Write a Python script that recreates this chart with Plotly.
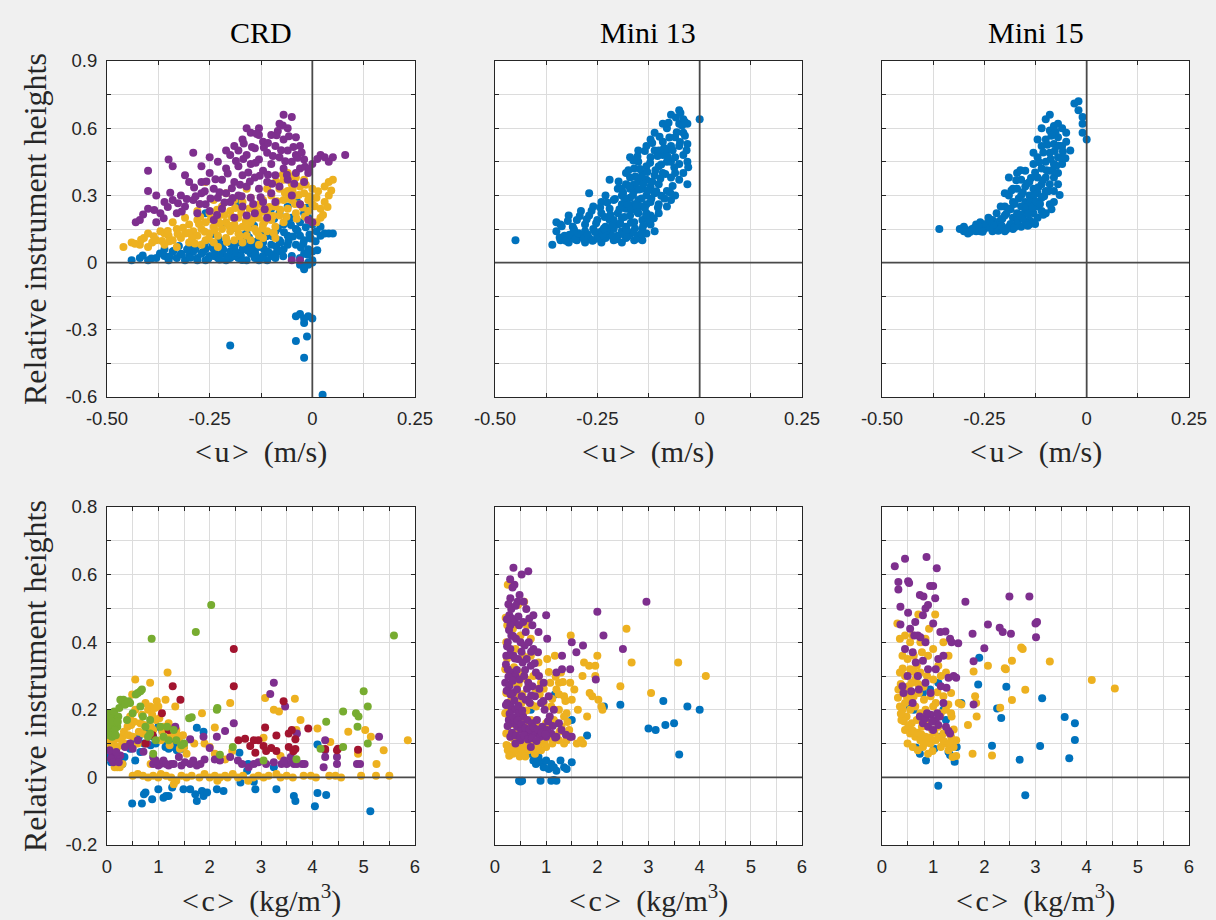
import plotly.graph_objects as go

BLUE = '#0072BD'
YELLOW = '#EDB120'
PURPLE = '#7E2F8E'
GREEN = '#77AC30'
RED = '#A2142F'

titles = ['CRD', 'Mini 13', 'Mini 15']

# ---------------- mean velocity <u> vs relative height ----------------
crd_u_blue = [
    (-0.44, 0.01), (-0.42, 0.02), (-0.40, 0.01), (-0.38, 0.02), (-0.36, 0.03), (-0.35, 0.01), (-0.33, 0.02),
    (-0.32, 0.04), (-0.31, 0.01), (-0.30, 0.03), (-0.29, 0.05), (-0.28, 0.02), (-0.27, 0.04), (-0.26, 0.01),
    (-0.25, 0.03), (-0.24, 0.06), (-0.23, 0.02), (-0.22, 0.04), (-0.21, 0.01), (-0.20, 0.05), (-0.19, 0.03),
    (-0.18, 0.02), (-0.17, 0.06), (-0.16, 0.01), (-0.15, 0.04), (-0.14, 0.02), (-0.13, 0.07), (-0.12, 0.03),
    (-0.11, 0.05), (-0.10, 0.08), (-0.09, 0.04), (-0.08, 0.10), (-0.07, 0.06), (-0.06, 0.12), (-0.05, 0.03),
    (-0.04, 0.08), (-0.03, 0.02), (-0.02, -0.02), (-0.01, 0.00), (0.00, 0.01), (-0.01, -0.01),
    (-0.30, 0.07), (-0.26, 0.06), (-0.22, 0.08), (-0.18, 0.09), (-0.16, 0.07), (-0.14, 0.05), (-0.12, 0.09),
    (-0.10, 0.03), (-0.08, 0.05), (-0.06, 0.08), (-0.20, 0.02), (-0.24, 0.03), (-0.28, 0.01), (-0.34, 0.05),
    (-0.36, 0.06), (-0.13, 0.01), (-0.11, 0.01), (-0.09, 0.02), (-0.15, 0.09), (-0.19, 0.07),
    (-0.04, 0.15), (-0.03, 0.18), (-0.02, 0.22), (-0.01, 0.20), (0.00, 0.17), (-0.05, 0.20), (-0.07, 0.17),
    (-0.08, 0.22), (-0.03, 0.12), (-0.02, 0.10), (0.01, 0.14), (0.02, 0.16), (0.03, 0.13), (0.04, 0.13),
    (0.05, 0.13), (0.02, 0.12), (-0.06, 0.25), (-0.10, 0.24), (-0.12, 0.14), (-0.16, 0.13), (-0.22, 0.17),
    (-0.26, 0.22), (-0.18, 0.27), (-0.09, 0.14), (-0.01, 0.06), (0.00, 0.05), (-0.02, 0.04),
    (-0.413, 0.032), (-0.392, 0.018), (-0.371, 0.041), (-0.347, 0.027), (-0.338, 0.052), (-0.318, 0.036),
    (-0.297, 0.022), (-0.284, 0.061), (-0.266, 0.047), (-0.253, 0.018), (-0.244, 0.071), (-0.236, 0.039),
    (-0.217, 0.058), (-0.207, 0.027), (-0.198, 0.083), (-0.186, 0.046), (-0.174, 0.031), (-0.166, 0.092),
    (-0.158, 0.054), (-0.147, 0.072), (-0.138, 0.036), (-0.127, 0.104), (-0.118, 0.061), (-0.106, 0.045),
    (-0.097, 0.118), (-0.088, 0.072), (-0.077, 0.091), (-0.069, 0.135), (-0.058, 0.098), (-0.047, 0.116),
    (-0.036, 0.142), (-0.028, 0.067), (-0.016, 0.158), (-0.007, 0.126), (0.008, 0.095), (-0.052, 0.168),
    (-0.063, 0.188), (-0.084, 0.152), (-0.112, 0.118), (-0.135, 0.095), (-0.154, 0.112), (-0.176, 0.124),
    (-0.228, 0.103), (-0.262, 0.086), (-0.305, 0.058), (-0.325, 0.074), (-0.014, 0.245), (-0.038, 0.275),
    (-0.093, 0.196), (-0.142, 0.165), (-0.192, 0.155), (-0.243, 0.128), (-0.011, 0.035), (0.012, 0.055),
    (-0.022, 0.085), (-0.004, 0.108), (-0.071, 0.028), (-0.122, 0.022), (-0.171, 0.012), (-0.226, 0.014),
    (-0.03, -0.01), (-0.02, -0.03), (0.00, 0.00), (-0.04, -0.24), (-0.03, -0.23), (-0.02, -0.25),
    (-0.01, -0.24), (-0.02, -0.27), (0.00, -0.25), (-0.20, -0.37), (-0.04, -0.35), (-0.013, -0.33),
    (-0.02, -0.425), (0.025, -0.59),
]
crd_u_yellow = [
    (-0.46, 0.07), (-0.44, 0.09), (-0.42, 0.08), (-0.41, 0.11), (-0.40, 0.07), (-0.39, 0.09), (-0.38, 0.10),
    (-0.37, 0.14), (-0.36, 0.08), (-0.35, 0.12), (-0.34, 0.10), (-0.33, 0.15), (-0.32, 0.11), (-0.31, 0.13),
    (-0.30, 0.17), (-0.30, 0.09), (-0.29, 0.14), (-0.28, 0.12), (-0.28, 0.19), (-0.27, 0.15), (-0.26, 0.10),
    (-0.26, 0.18), (-0.25, 0.13), (-0.25, 0.22), (-0.24, 0.16), (-0.24, 0.09), (-0.23, 0.20), (-0.23, 0.12),
    (-0.22, 0.15), (-0.22, 0.25), (-0.21, 0.11), (-0.21, 0.18), (-0.20, 0.14), (-0.20, 0.23), (-0.19, 0.10),
    (-0.19, 0.17), (-0.18, 0.20), (-0.18, 0.13), (-0.17, 0.16), (-0.17, 0.27), (-0.16, 0.12), (-0.16, 0.21),
    (-0.15, 0.18), (-0.15, 0.10), (-0.14, 0.15), (-0.14, 0.24), (-0.13, 0.20), (-0.13, 0.12), (-0.12, 0.17),
    (-0.12, 0.28), (-0.11, 0.22), (-0.11, 0.14), (-0.10, 0.19), (-0.10, 0.30), (-0.09, 0.25), (-0.09, 0.16),
    (-0.08, 0.33), (-0.08, 0.21), (-0.07, 0.28), (-0.07, 0.37), (-0.06, 0.24), (-0.06, 0.40), (-0.06, 0.32),
    (-0.05, 0.35), (-0.05, 0.28), (-0.04, 0.38), (-0.04, 0.30), (-0.04, 0.22), (-0.03, 0.34), (-0.03, 0.26),
    (-0.02, 0.31), (-0.02, 0.37), (-0.01, 0.28), (-0.01, 0.23), (0.00, 0.33), (0.00, 0.26), (0.01, 0.29),
    (0.02, 0.24), (0.03, 0.27), (0.03, 0.34), (0.04, 0.36), (0.05, 0.37), (0.04, 0.30), (0.02, 0.20),
    (0.01, 0.18), (-0.33, 0.07), (-0.36, 0.13), (-0.27, 0.08), (-0.23, 0.07), (-0.17, 0.09), (-0.13, 0.08),
    (-0.09, 0.11), (-0.15, 0.29), (-0.19, 0.28), (-0.21, 0.31), (-0.24, 0.28), (-0.26, 0.36), (-0.28, 0.23),
    (-0.31, 0.20), (-0.34, 0.18), (-0.40, 0.13), (-0.12, 0.11), (-0.07, 0.18), (-0.11, 0.33), (-0.16, 0.33),
    (-0.432, 0.084), (-0.417, 0.102), (-0.386, 0.118), (-0.366, 0.096), (-0.352, 0.141), (-0.328, 0.128),
    (-0.315, 0.156), (-0.293, 0.107), (-0.276, 0.172), (-0.262, 0.138), (-0.247, 0.194), (-0.238, 0.146),
    (-0.226, 0.176), (-0.214, 0.212), (-0.203, 0.164), (-0.196, 0.204), (-0.184, 0.152), (-0.173, 0.226),
    (-0.162, 0.186), (-0.153, 0.242), (-0.144, 0.196), (-0.136, 0.138), (-0.125, 0.226), (-0.116, 0.184),
    (-0.104, 0.248), (-0.096, 0.208), (-0.086, 0.274), (-0.078, 0.236), (-0.067, 0.312), (-0.058, 0.286),
    (-0.048, 0.326), (-0.042, 0.262), (-0.033, 0.302), (-0.024, 0.246), (-0.016, 0.348), (-0.006, 0.296),
    (0.006, 0.252), (0.014, 0.318), (0.026, 0.212), (0.037, 0.248), (0.046, 0.322), (-0.072, 0.392),
    (-0.054, 0.384), (-0.088, 0.362), (-0.128, 0.262), (-0.176, 0.118), (-0.208, 0.092), (-0.252, 0.107),
    (-0.286, 0.085), (-0.348, 0.095), (-0.188, 0.244), (-0.232, 0.236), (-0.121, 0.152), (-0.094, 0.132),
    (-0.063, 0.205), (-0.038, 0.196), (-0.018, 0.206), (-0.302, 0.132), (-0.273, 0.204), (-0.157, 0.155),
]
crd_u_purple = [
    (-0.43, 0.18), (-0.42, 0.19), (-0.40, 0.32), (-0.40, 0.41), (-0.40, 0.24), (-0.38, 0.18), (-0.37, 0.22),
    (-0.35, 0.46), (-0.34, 0.43), (-0.34, 0.28), (-0.33, 0.22), (-0.32, 0.30), (-0.31, 0.25), (-0.30, 0.36),
    (-0.29, 0.49), (-0.29, 0.28), (-0.28, 0.22), (-0.27, 0.36), (-0.27, 0.31), (-0.26, 0.26), (-0.25, 0.40),
    (-0.25, 0.23), (-0.24, 0.33), (-0.23, 0.45), (-0.23, 0.29), (-0.22, 0.37), (-0.22, 0.24), (-0.21, 0.42),
    (-0.21, 0.31), (-0.20, 0.48), (-0.20, 0.27), (-0.19, 0.36), (-0.19, 0.52), (-0.18, 0.43), (-0.18, 0.30),
    (-0.17, 0.55), (-0.17, 0.39), (-0.17, 0.25), (-0.16, 0.48), (-0.16, 0.34), (-0.15, 0.58), (-0.15, 0.44),
    (-0.15, 0.29), (-0.14, 0.51), (-0.14, 0.38), (-0.14, 0.22), (-0.13, 0.60), (-0.13, 0.46), (-0.13, 0.33),
    (-0.12, 0.54), (-0.12, 0.41), (-0.12, 0.27), (-0.11, 0.49), (-0.11, 0.36), (-0.10, 0.57), (-0.10, 0.44),
    (-0.10, 0.31), (-0.09, 0.52), (-0.09, 0.39), (-0.08, 0.62), (-0.08, 0.47), (-0.08, 0.34), (-0.07, 0.66),
    (-0.07, 0.55), (-0.07, 0.42), (-0.06, 0.60), (-0.06, 0.50), (-0.06, 0.37), (-0.05, 0.65), (-0.05, 0.45),
    (-0.04, 0.56), (-0.04, 0.48), (-0.03, 0.52), (-0.03, 0.42), (-0.02, 0.46), (-0.01, 0.40), (0.00, 0.44),
    (0.02, 0.48), (0.03, 0.47), (0.04, 0.45), (0.05, 0.47), (0.08, 0.48), (-0.01, 0.19), (0.00, 0.18),
    (-0.05, 0.01), (-0.03, 0.01), (-0.27, 0.43), (-0.31, 0.39), (-0.36, 0.27), (-0.38, 0.30), (-0.16, 0.21),
    (-0.11, 0.20), (-0.19, 0.20), (-0.24, 0.19), (-0.09, 0.27), (-0.05, 0.30), (-0.02, 0.36), (-0.13, 0.57),
    (-0.16, 0.60), (-0.18, 0.50), (-0.21, 0.50), (-0.25, 0.47), (-0.04, 0.40), (-0.03, 0.26),
    (-0.412, 0.215), (-0.385, 0.235), (-0.362, 0.198), (-0.346, 0.312), (-0.327, 0.265), (-0.306, 0.284),
    (-0.288, 0.335), (-0.274, 0.262), (-0.262, 0.318), (-0.248, 0.286), (-0.236, 0.372), (-0.226, 0.314),
    (-0.214, 0.268), (-0.206, 0.398), (-0.196, 0.332), (-0.186, 0.454), (-0.176, 0.348), (-0.168, 0.462),
    (-0.156, 0.402), (-0.147, 0.516), (-0.138, 0.446), (-0.128, 0.388), (-0.118, 0.514), (-0.108, 0.392),
    (-0.096, 0.476), (-0.087, 0.568), (-0.076, 0.502), (-0.066, 0.452), (-0.057, 0.564), (-0.046, 0.516),
    (-0.036, 0.468), (-0.026, 0.492), (-0.018, 0.428), (-0.008, 0.418), (0.012, 0.462), (-0.072, 0.612),
    (-0.084, 0.588), (-0.108, 0.534), (-0.136, 0.575), (-0.152, 0.362), (-0.172, 0.296), (-0.194, 0.288),
    (-0.232, 0.212), (-0.258, 0.362), (-0.284, 0.296), (-0.318, 0.228), (-0.352, 0.248), (-0.126, 0.292),
    (-0.098, 0.352), (-0.062, 0.392), (-0.044, 0.352), (-0.116, 0.238), (-0.144, 0.262), (-0.167, 0.532),
]
mini13_u_blue = [
    (-0.45, 0.10), (-0.36, 0.08), (-0.34, 0.10), (-0.33, 0.12), (-0.32, 0.09), (-0.31, 0.11), (-0.30, 0.10),
    (-0.29, 0.12), (-0.28, 0.09), (-0.27, 0.11), (-0.26, 0.10), (-0.25, 0.12), (-0.24, 0.09), (-0.23, 0.11),
    (-0.22, 0.13), (-0.21, 0.10), (-0.20, 0.12), (-0.19, 0.14), (-0.18, 0.11), (-0.17, 0.13), (-0.16, 0.10),
    (-0.15, 0.12), (-0.14, 0.15), (-0.13, 0.13), (-0.35, 0.18), (-0.34, 0.17), (-0.35, 0.14), (-0.32, 0.21),
    (-0.31, 0.16), (-0.30, 0.19), (-0.29, 0.23), (-0.28, 0.17), (-0.27, 0.21), (-0.26, 0.25), (-0.26, 0.15),
    (-0.25, 0.19), (-0.24, 0.27), (-0.24, 0.22), (-0.23, 0.16), (-0.23, 0.30), (-0.22, 0.24), (-0.22, 0.19),
    (-0.21, 0.28), (-0.21, 0.15), (-0.20, 0.33), (-0.20, 0.22), (-0.20, 0.17), (-0.19, 0.26), (-0.19, 0.30),
    (-0.19, 0.20), (-0.18, 0.35), (-0.18, 0.24), (-0.18, 0.16), (-0.17, 0.29), (-0.17, 0.38), (-0.17, 0.21),
    (-0.16, 0.32), (-0.16, 0.26), (-0.16, 0.42), (-0.16, 0.18), (-0.15, 0.36), (-0.15, 0.28), (-0.15, 0.22),
    (-0.15, 0.45), (-0.14, 0.33), (-0.14, 0.40), (-0.14, 0.25), (-0.14, 0.19), (-0.13, 0.37), (-0.13, 0.30),
    (-0.13, 0.43), (-0.13, 0.22), (-0.12, 0.34), (-0.12, 0.47), (-0.12, 0.27), (-0.12, 0.17), (-0.11, 0.39),
    (-0.11, 0.31), (-0.11, 0.50), (-0.10, 0.43), (-0.10, 0.35), (-0.10, 0.26), (-0.09, 0.48), (-0.09, 0.40),
    (-0.09, 0.54), (-0.08, 0.45), (-0.08, 0.32), (-0.08, 0.60), (-0.07, 0.52), (-0.07, 0.38), (-0.07, 0.28),
    (-0.06, 0.56), (-0.06, 0.47), (-0.06, 0.30), (-0.05, 0.62), (-0.05, 0.52), (-0.05, 0.68), (-0.04, 0.58),
    (-0.04, 0.48), (-0.04, 0.40), (-0.03, 0.62), (-0.03, 0.53), (-0.03, 0.45), (-0.03, 0.35), (0.00, 0.64),
    (-0.04, 0.64), (-0.07, 0.66), (-0.09, 0.62), (-0.11, 0.58), (-0.13, 0.52), (-0.17, 0.47), (-0.22, 0.37),
    (-0.27, 0.31), (-0.05, 0.37), (-0.06, 0.40), (-0.08, 0.25), (-0.10, 0.22), (-0.12, 0.21), (-0.17, 0.13),
    (-0.19, 0.09), (-0.24, 0.14), (-0.28, 0.14), (-0.31, 0.13), (-0.14, 0.10), (-0.11, 0.14), (-0.16, 0.35),
    (-0.18, 0.40), (-0.15, 0.50), (-0.12, 0.55), (-0.10, 0.50), (-0.08, 0.50), (-0.07, 0.45), (-0.05, 0.44),
    (-0.13, 0.26), (-0.19, 0.33), (-0.21, 0.19), (-0.17, 0.33),
    (-0.342, 0.112), (-0.327, 0.098), (-0.318, 0.124), (-0.304, 0.104), (-0.296, 0.131), (-0.283, 0.107),
    (-0.274, 0.126), (-0.262, 0.098), (-0.248, 0.108), (-0.236, 0.124), (-0.228, 0.142), (-0.214, 0.118),
    (-0.203, 0.104), (-0.188, 0.128), (-0.176, 0.116), (-0.163, 0.134), (-0.152, 0.108), (-0.143, 0.128),
    (-0.337, 0.162), (-0.322, 0.186), (-0.307, 0.148), (-0.293, 0.208), (-0.276, 0.194), (-0.264, 0.232),
    (-0.253, 0.176), (-0.243, 0.246), (-0.232, 0.204), (-0.226, 0.268), (-0.218, 0.214), (-0.207, 0.284),
    (-0.196, 0.238), (-0.187, 0.312), (-0.184, 0.204), (-0.176, 0.262), (-0.172, 0.342), (-0.166, 0.236),
    (-0.163, 0.302), (-0.157, 0.384), (-0.154, 0.254), (-0.148, 0.326), (-0.146, 0.418), (-0.142, 0.286),
    (-0.137, 0.352), (-0.134, 0.244), (-0.128, 0.404), (-0.126, 0.322), (-0.121, 0.446), (-0.118, 0.286),
    (-0.116, 0.362), (-0.108, 0.412), (-0.106, 0.318), (-0.103, 0.476), (-0.096, 0.376), (-0.094, 0.438),
    (-0.087, 0.512), (-0.084, 0.396), (-0.078, 0.472), (-0.074, 0.558), (-0.066, 0.502), (-0.062, 0.424),
    (-0.056, 0.582), (-0.048, 0.538), (-0.043, 0.612), (-0.036, 0.566), (-0.032, 0.502), (-0.028, 0.426),
    (-0.066, 0.342), (-0.072, 0.312), (-0.086, 0.286), (-0.094, 0.298), (-0.102, 0.246), (-0.112, 0.198),
    (-0.124, 0.186), (-0.138, 0.164), (-0.158, 0.152), (-0.168, 0.178), (-0.178, 0.146), (-0.194, 0.176),
    (-0.214, 0.162), (-0.234, 0.152), (-0.256, 0.138), (-0.184, 0.288), (-0.198, 0.362), (-0.174, 0.412),
    (-0.152, 0.474), (-0.134, 0.498), (-0.116, 0.534), (-0.098, 0.562), (-0.076, 0.624), (-0.058, 0.648),
    (-0.047, 0.668), (-0.036, 0.628), (-0.152, 0.226), (-0.131, 0.212), (-0.142, 0.382), (-0.162, 0.456),
]
mini15_u_blue = [
    (-0.36, 0.15), (-0.30, 0.14), (-0.30, 0.16), (-0.29, 0.13), (-0.28, 0.15), (-0.27, 0.17), (-0.26, 0.14),
    (-0.25, 0.15), (-0.24, 0.16), (-0.23, 0.14), (-0.22, 0.15), (-0.21, 0.17), (-0.20, 0.14), (-0.19, 0.16),
    (-0.18, 0.15), (-0.17, 0.17), (-0.26, 0.18), (-0.24, 0.20), (-0.22, 0.22), (-0.21, 0.19), (-0.20, 0.25),
    (-0.20, 0.21), (-0.19, 0.30), (-0.19, 0.24), (-0.18, 0.20), (-0.18, 0.27), (-0.17, 0.33), (-0.17, 0.22),
    (-0.17, 0.19), (-0.16, 0.30), (-0.16, 0.25), (-0.16, 0.37), (-0.16, 0.20), (-0.15, 0.34), (-0.15, 0.27),
    (-0.15, 0.23), (-0.15, 0.41), (-0.14, 0.30), (-0.14, 0.36), (-0.14, 0.25), (-0.14, 0.19), (-0.13, 0.44),
    (-0.13, 0.33), (-0.13, 0.28), (-0.13, 0.22), (-0.12, 0.38), (-0.12, 0.31), (-0.12, 0.47), (-0.12, 0.25),
    (-0.11, 0.42), (-0.11, 0.35), (-0.11, 0.29), (-0.11, 0.52), (-0.10, 0.45), (-0.10, 0.38), (-0.10, 0.32),
    (-0.10, 0.55), (-0.09, 0.49), (-0.09, 0.41), (-0.09, 0.35), (-0.09, 0.59), (-0.08, 0.53), (-0.08, 0.44),
    (-0.08, 0.38), (-0.08, 0.61), (-0.07, 0.56), (-0.07, 0.47), (-0.07, 0.40), (-0.07, 0.62), (-0.06, 0.52),
    (-0.06, 0.44), (-0.05, 0.54), (-0.04, 0.50), (-0.03, 0.71), (-0.02, 0.68), (-0.02, 0.72), (-0.01, 0.65),
    (-0.01, 0.62), (-0.01, 0.58), (0.00, 0.55), (-0.09, 0.26), (-0.08, 0.27), (-0.12, 0.20), (-0.10, 0.22),
    (-0.14, 0.17), (-0.16, 0.16), (-0.20, 0.31), (-0.21, 0.25), (-0.22, 0.18), (-0.23, 0.19), (-0.18, 0.33),
    (-0.19, 0.38), (-0.17, 0.40), (-0.13, 0.49), (-0.12, 0.55), (-0.11, 0.60), (-0.10, 0.64), (-0.09, 0.66),
    (-0.06, 0.60), (-0.05, 0.58), (-0.07, 0.35), (-0.08, 0.32), (-0.11, 0.23), (-0.13, 0.18), (-0.15, 0.18),
    (-0.26, 0.16), (-0.27, 0.14), (-0.31, 0.15),
    (-0.296, 0.148), (-0.284, 0.138), (-0.274, 0.156), (-0.263, 0.148), (-0.254, 0.138), (-0.246, 0.172),
    (-0.236, 0.156), (-0.228, 0.168), (-0.216, 0.142), (-0.207, 0.162), (-0.196, 0.148), (-0.186, 0.172),
    (-0.176, 0.158), (-0.168, 0.186), (-0.162, 0.214), (-0.156, 0.198), (-0.148, 0.246), (-0.143, 0.218),
    (-0.138, 0.272), (-0.133, 0.246), (-0.128, 0.304), (-0.124, 0.272), (-0.118, 0.336), (-0.114, 0.262),
    (-0.107, 0.368), (-0.104, 0.296), (-0.098, 0.412), (-0.094, 0.318), (-0.088, 0.462), (-0.084, 0.412),
    (-0.078, 0.498), (-0.074, 0.432), (-0.068, 0.522), (-0.064, 0.468), (-0.058, 0.496), (-0.052, 0.466),
    (-0.076, 0.584), (-0.086, 0.566), (-0.096, 0.526), (-0.106, 0.492), (-0.116, 0.448), (-0.126, 0.402),
    (-0.136, 0.378), (-0.146, 0.352), (-0.156, 0.314), (-0.166, 0.286), (-0.176, 0.262), (-0.186, 0.238),
    (-0.196, 0.218), (-0.206, 0.196), (-0.236, 0.186), (-0.144, 0.164), (-0.126, 0.172), (-0.106, 0.214),
    (-0.086, 0.238), (-0.066, 0.302), (-0.172, 0.368), (-0.184, 0.322), (-0.162, 0.412),
]

# ---------------- mean concentration <c> vs relative height ----------------
crd_c_blue = [
    (0.49, -0.077), (0.68, -0.077), (0.75, -0.045), (0.88, -0.065), (1.00, -0.035), (1.10, -0.06),
    (1.20, -0.055), (1.27, -0.03), (1.49, -0.035), (1.62, -0.035), (1.72, -0.05), (1.75, -0.07),
    (1.85, -0.04), (1.88, -0.055), (1.95, -0.045), (2.14, -0.035), (2.27, -0.04), (2.60, -0.015),
    (2.86, -0.013), (2.89, -0.035), (3.30, -0.035), (3.64, -0.055), (3.67, -0.07), (4.10, -0.046),
    (4.27, -0.052), (4.05, -0.085), (5.13, -0.10), (1.15, -0.055), (0.72, -0.05),
    (0.10, 0.05), (0.15, 0.04), (0.20, 0.045), (0.30, 0.04), (0.39, 0.095), (0.55, 0.10), (0.62, 0.12),
    (0.55, 0.05), (0.78, 0.135), (0.65, 0.075), (1.07, 0.14), (1.14, 0.09), (1.20, 0.085), (1.30, 0.10),
    (1.36, 0.08), (1.46, 0.085), (1.75, 0.147), (1.88, 0.135), (2.58, 0.073), (2.73, 0.02), (3.25, 0.03),
    (4.10, 0.097), (1.50, 0.09), (2.75, 0.04), (0.90, 0.12), (1.00, 0.15), (0.05, 0.06),
    (0.08, 0.045), (0.12, 0.065), (0.17, 0.055), (0.25, 0.05), (0.34, 0.06), (0.45, 0.085), (0.72, 0.10),
    (0.85, 0.095), (0.95, 0.10), (1.12, 0.11), (1.25, 0.09), (1.40, 0.10),
]
crd_c_yellow = [
    (0.50, 0.005), (0.60, 0.01), (0.70, 0.005), (0.80, 0.0), (0.90, 0.005), (1.00, 0.0), (1.05, 0.01),
    (1.15, 0.005), (1.25, 0.0), (1.35, -0.01), (1.45, 0.005), (1.55, 0.0), (1.65, 0.005), (1.80, 0.0),
    (1.90, 0.01), (2.00, 0.0), (2.10, 0.005), (2.20, 0.0), (2.30, 0.005), (2.35, 0.0), (2.45, 0.01),
    (2.55, 0.0), (2.65, 0.005), (2.75, -0.01), (2.85, 0.0), (2.95, 0.005), (3.05, 0.0), (3.15, 0.005),
    (3.30, 0.01), (3.38, 0.0), (3.50, 0.005), (3.62, 0.0), (3.83, 0.005), (3.97, 0.005), (4.07, 0.0),
    (4.33, 0.005), (4.45, 0.005), (4.56, 0.0), (4.95, 0.005), (5.24, 0.005), (5.50, 0.005), (1.30, -0.02),
    (2.15, -0.01),
    (0.55, 0.29), (0.84, 0.28), (1.18, 0.31), (0.97, 0.225), (1.14, 0.23), (1.33, 0.21), (0.84, 0.21),
    (0.49, 0.245), (1.85, 0.19), (2.10, 0.148), (2.40, 0.22), (2.44, 0.078), (2.30, 0.053), (3.08, 0.235),
    (3.25, 0.20), (3.35, 0.195), (3.05, 0.117), (3.38, 0.063), (3.66, 0.233), (3.77, 0.17), (4.10, 0.145),
    (4.35, 0.105), (4.70, 0.135), (5.03, 0.14), (5.14, 0.12), (5.39, 0.08), (5.25, 0.04), (5.86, 0.11),
    (4.89, 0.07), (3.69, 0.14),
    (0.05, 0.10), (0.10, 0.08), (0.15, 0.12), (0.20, 0.09), (0.25, 0.03), (0.30, 0.04), (0.35, 0.10),
    (0.40, 0.15), (0.45, 0.18), (0.50, 0.12), (0.55, 0.20), (0.60, 0.10), (0.65, 0.16), (0.70, 0.13),
    (0.75, 0.22), (0.80, 0.20), (0.85, 0.15), (0.90, 0.14), (0.95, 0.17), (1.00, 0.21), (1.05, 0.11),
    (1.10, 0.15), (1.20, 0.16), (1.25, 0.13), (1.30, 0.12), (1.35, 0.14), (1.40, 0.11), (1.45, 0.10),
    (1.50, 0.09), (1.55, 0.07), (1.70, 0.10), (1.90, 0.10), (2.00, 0.09), (2.10, 0.07), (0.20, 0.03),
    (0.15, 0.03), (0.85, 0.04), (0.02, 0.12), (0.08, 0.11), (0.30, 0.12),
    (0.04, 0.085), (0.09, 0.095), (0.13, 0.105), (0.18, 0.075), (0.24, 0.115), (0.28, 0.095), (0.33, 0.135),
    (0.42, 0.125), (0.47, 0.155), (0.53, 0.165), (0.62, 0.135), (0.68, 0.185), (0.72, 0.155), (0.78, 0.125),
    (0.88, 0.185), (0.93, 0.205), (1.02, 0.175), (1.08, 0.135), (1.16, 0.115), (1.22, 0.095), (1.28, 0.145),
    (1.38, 0.125), (1.42, 0.085), (1.48, 0.125),
]
crd_c_purple = [
    (0.10, 0.07), (0.15, 0.06), (0.20, 0.055), (0.26, 0.065), (0.05, 0.08), (0.45, 0.10), (0.71, 0.076),
    (0.90, 0.04), (1.00, 0.035), (1.04, 0.04), (1.20, 0.035), (1.25, 0.04), (1.45, 0.035), (1.62, 0.04),
    (1.75, 0.035), (1.33, 0.15), (1.62, 0.113), (1.88, 0.12), (2.00, 0.087), (2.14, 0.12), (2.30, 0.137),
    (2.47, 0.16), (1.90, 0.053), (2.10, 0.053), (2.63, 0.04), (2.76, 0.03), (2.86, 0.04), (3.25, 0.28),
    (3.18, 0.247), (3.47, 0.21), (3.40, 0.04), (3.50, 0.04), (3.64, 0.04), (3.70, 0.13), (3.70, 0.04),
    (3.80, 0.04), (3.85, 0.04), (4.25, 0.11), (4.25, 0.08), (4.25, 0.06), (4.22, 0.03), (4.48, 0.06),
    (4.48, 0.04), (4.87, 0.04), (4.93, 0.04), (5.30, 0.12), (0.90, 0.06), (1.10, 0.05), (0.60, 0.11),
    (0.35, 0.09), (1.40, 0.06), (3.45, 0.05), (3.58, 0.06),
    (0.08, 0.055), (0.12, 0.045), (0.18, 0.075), (0.23, 0.045), (0.50, 0.085), (0.78, 0.10), (0.95, 0.05),
    (1.15, 0.04), (1.30, 0.04), (1.52, 0.045), (1.68, 0.05), (1.82, 0.04), (2.20, 0.05), (2.40, 0.06),
    (2.55, 0.05), (2.95, 0.045), (3.10, 0.04), (3.25, 0.045), (3.60, 0.045),
]
crd_c_red = [
    (2.47, 0.38), (2.47, 0.27), (1.28, 0.27), (1.43, 0.23), (1.07, 0.19), (0.89, 0.125), (2.69, 0.114),
    (2.79, 0.093), (2.89, 0.073), (2.95, 0.11), (3.05, 0.093), (3.10, 0.078), (3.20, 0.087), (3.30, 0.078),
    (3.08, 0.148), (3.30, 0.124), (3.44, 0.225), (3.54, 0.13), (3.54, 0.09), (3.63, 0.077), (3.92, 0.145),
    (3.67, 0.113), (3.67, 0.084), (4.25, 0.084), (4.48, 0.08), (4.50, 0.085), (4.89, 0.082), (2.56, 0.11),
    (2.86, 0.11), (3.60, 0.14), (0.75, 0.10), (1.20, 0.14),
]
crd_c_green = [
    (2.03, 0.51), (0.87, 0.41), (1.73, 0.43), (5.59, 0.42), (5.00, 0.255), (5.08, 0.21), (4.60, 0.195),
    (4.85, 0.19), (4.90, 0.18), (4.88, 0.15), (4.27, 0.165), (5.08, 0.10), (4.60, 0.09), (4.16, 0.085),
    (3.69, 0.054), (0.05, 0.19), (0.08, 0.17), (0.10, 0.15), (0.12, 0.18), (0.15, 0.16), (0.05, 0.14),
    (0.08, 0.13), (0.12, 0.19), (0.18, 0.17), (0.20, 0.15), (0.03, 0.17), (0.06, 0.16), (0.10, 0.12),
    (0.15, 0.14), (0.22, 0.18), (0.26, 0.23), (0.32, 0.23), (0.38, 0.22), (0.45, 0.22), (0.60, 0.25),
    (0.65, 0.255), (0.68, 0.26), (0.39, 0.17), (0.65, 0.21), (0.84, 0.17), (0.84, 0.13), (1.04, 0.15),
    (1.17, 0.15), (1.60, 0.175), (1.65, 0.178), (2.14, 0.20), (2.15, 0.205), (0.90, 0.07), (1.10, 0.12),
    (1.50, 0.10), (2.20, 0.067), (3.05, 0.05), (0.50, 0.19), (0.70, 0.18), (0.95, 0.11), (1.30, 0.14),
    (1.45, 0.095), (2.45, 0.09),
    (0.02, 0.155), (0.04, 0.125), (0.07, 0.185), (0.11, 0.165), (0.14, 0.195), (0.17, 0.125), (0.21, 0.165),
    (0.24, 0.205), (0.29, 0.225), (0.35, 0.215), (0.42, 0.225), (0.56, 0.245), (0.75, 0.15), (0.80, 0.12),
    (1.20, 0.11), (1.35, 0.11),
]
mini13_c_blue = [
    (3.29, 0.226), (3.76, 0.21), (4.00, 0.20), (2.45, 0.215), (2.13, 0.21), (3.00, 0.145), (3.14, 0.14),
    (3.33, 0.155), (3.50, 0.16), (3.60, 0.068), (1.80, 0.124), (1.45, 0.122), (1.50, 0.17), (1.50, 0.045),
    (1.17, 0.245), (0.90, 0.045), (0.95, 0.03), (1.00, 0.05), (1.05, 0.025), (1.10, 0.04), (1.15, 0.03),
    (1.20, 0.02), (1.28, 0.05), (1.35, 0.03), (1.40, 0.025), (0.80, 0.04), (0.85, 0.06), (0.75, 0.05),
    (0.70, 0.07), (0.47, -0.01), (0.53, -0.01), (0.50, -0.012), (0.89, -0.01), (1.10, -0.01),
    (1.15, -0.008), (1.20, -0.01), (0.60, 0.09), (0.90, 0.12), (1.20, 0.16), (0.35, 0.30), (0.70, 0.20),
]
mini13_c_yellow = [
    (0.25, 0.57), (0.45, 0.51), (0.57, 0.52), (0.70, 0.41), (0.24, 0.45), (0.35, 0.44), (0.50, 0.42),
    (0.62, 0.45), (0.22, 0.40), (0.30, 0.36), (0.40, 0.38), (0.55, 0.36), (0.70, 0.36), (0.85, 0.34),
    (1.02, 0.35), (1.17, 0.36), (1.29, 0.31), (0.20, 0.32), (0.28, 0.30), (0.38, 0.28), (0.48, 0.31),
    (0.62, 0.29), (0.75, 0.30), (0.90, 0.28), (1.08, 0.28), (1.20, 0.26), (1.35, 0.24), (0.22, 0.25),
    (0.32, 0.23), (0.42, 0.24), (0.52, 0.22), (0.65, 0.23), (0.80, 0.21), (0.95, 0.22), (1.10, 0.21),
    (1.25, 0.20), (1.40, 0.19), (0.20, 0.19), (0.28, 0.18), (0.38, 0.17), (0.48, 0.18), (0.58, 0.16),
    (0.70, 0.17), (0.85, 0.15), (1.00, 0.16), (1.15, 0.17), (1.30, 0.15), (1.45, 0.14), (0.22, 0.13),
    (0.30, 0.12), (0.40, 0.13), (0.50, 0.11), (0.60, 0.12), (0.72, 0.10), (0.88, 0.11), (1.00, 0.09),
    (1.12, 0.10), (1.25, 0.11), (1.35, 0.10), (0.25, 0.08), (0.35, 0.07), (0.45, 0.08), (0.55, 0.07),
    (0.65, 0.08), (0.78, 0.07), (0.90, 0.08), (0.30, 0.09), (0.42, 0.10), (0.62, 0.09), (0.80, 0.09),
    (1.48, 0.42), (1.74, 0.34), (1.84, 0.33), (1.71, 0.30), (1.96, 0.33), (1.96, 0.30), (2.00, 0.36),
    (2.57, 0.44), (2.67, 0.34), (3.58, 0.34), (4.12, 0.30), (2.45, 0.27), (3.05, 0.25), (1.90, 0.24),
    (1.85, 0.25), (2.02, 0.23), (2.08, 0.21), (2.10, 0.20), (1.80, 0.18), (1.60, 0.10), (1.68, 0.11),
    (1.72, 0.10), (1.40, 0.11), (1.50, 0.23), (1.25, 0.28), (1.47, 0.28), (1.55, 0.26), (1.62, 0.20),
    (1.35, 0.18),
    (0.208, 0.472), (0.236, 0.352), (0.262, 0.204), (0.314, 0.158), (0.372, 0.112), (0.432, 0.094),
    (0.512, 0.086), (0.584, 0.104), (0.668, 0.096), (0.742, 0.086), (0.846, 0.094), (0.964, 0.102),
    (1.052, 0.118), (1.168, 0.124), (1.262, 0.136), (1.118, 0.232), (1.186, 0.298), (1.326, 0.282),
    (1.052, 0.312), (0.952, 0.262), (0.874, 0.246), (0.788, 0.262), (0.718, 0.214), (0.612, 0.198),
    (0.536, 0.246), (0.462, 0.276), (0.372, 0.326), (0.446, 0.152), (0.546, 0.142), (0.642, 0.144),
    (0.756, 0.132), (0.866, 0.136), (0.226, 0.096), (0.278, 0.064), (0.356, 0.086), (1.416, 0.164),
    (1.376, 0.226), (1.248, 0.246), (0.482, 0.062), (0.592, 0.062),
]
mini13_c_purple = [
    (0.36, 0.62), (0.52, 0.60), (0.65, 0.61), (0.30, 0.53), (0.44, 0.52), (0.48, 0.54), (0.56, 0.52),
    (0.67, 0.47), (0.28, 0.48), (0.33, 0.47), (0.39, 0.46), (0.47, 0.45), (0.60, 0.43), (0.73, 0.45),
    (0.85, 0.43), (1.00, 0.48), (1.02, 0.41), (0.32, 0.42), (0.41, 0.41), (0.50, 0.40), (0.58, 0.39),
    (0.66, 0.40), (0.75, 0.38), (0.30, 0.38), (0.22, 0.36), (0.36, 0.36), (0.45, 0.35), (0.54, 0.34),
    (0.62, 0.35), (0.70, 0.33), (0.80, 0.31), (0.25, 0.32), (0.32, 0.31), (0.40, 0.30), (0.48, 0.29),
    (0.57, 0.30), (0.65, 0.28), (0.73, 0.27), (0.86, 0.30), (0.95, 0.28), (0.20, 0.28), (0.28, 0.27),
    (0.35, 0.25), (0.43, 0.26), (0.52, 0.24), (0.60, 0.23), (0.68, 0.22), (0.78, 0.24), (0.90, 0.22),
    (1.05, 0.24), (0.24, 0.22), (0.31, 0.21), (0.39, 0.20), (0.47, 0.19), (0.55, 0.18), (0.63, 0.17),
    (0.72, 0.16), (0.82, 0.17), (0.93, 0.15), (1.02, 0.14), (0.27, 0.17), (0.35, 0.16), (0.43, 0.15),
    (0.51, 0.14), (0.60, 0.13), (0.69, 0.12), (0.78, 0.13), (0.88, 0.12), (1.00, 0.12), (1.10, 0.13),
    (1.20, 0.12), (1.30, 0.14), (1.47, 0.12), (1.50, 0.12), (1.20, 0.31), (1.31, 0.36), (1.31, 0.32),
    (1.50, 0.40), (1.59, 0.37), (1.72, 0.39), (1.47, 0.32), (2.00, 0.49), (2.12, 0.42), (2.50, 0.38),
    (2.96, 0.52), (1.97, 0.29), (1.07, 0.18), (0.97, 0.20), (0.38, 0.57), (0.30, 0.45), (0.25, 0.40),
    (0.55, 0.46), (0.75, 0.48), (0.84, 0.37), (1.15, 0.20), (1.25, 0.16), (0.40, 0.10), (0.50, 0.11),
    (0.70, 0.09), (0.30, 0.12),
    (0.262, 0.512), (0.318, 0.498), (0.274, 0.436), (0.352, 0.418), (0.236, 0.388), (0.296, 0.362),
    (0.388, 0.352), (0.214, 0.334), (0.262, 0.298), (0.346, 0.286), (0.426, 0.318), (0.228, 0.256),
    (0.302, 0.246), (0.378, 0.228), (0.456, 0.212), (0.532, 0.198), (0.214, 0.214), (0.286, 0.188),
    (0.362, 0.178), (0.438, 0.168), (0.516, 0.158), (0.594, 0.146), (0.676, 0.142), (0.752, 0.148),
    (0.836, 0.142), (0.912, 0.132), (0.986, 0.128), (0.246, 0.152), (0.332, 0.132), (0.414, 0.124),
    (0.488, 0.118), (0.566, 0.124), (0.646, 0.112), (0.722, 0.116), (0.812, 0.108), (0.626, 0.262),
    (0.706, 0.242), (0.588, 0.318), (0.518, 0.372), (0.458, 0.476), (0.404, 0.508), (0.612, 0.498),
    (0.706, 0.372), (0.776, 0.338), (0.866, 0.262), (0.946, 0.226), (1.036, 0.166), (1.126, 0.152),
    (1.176, 0.118), (1.386, 0.126), (0.232, 0.468), (0.342, 0.562), (0.296, 0.586),
]
mini15_c_blue = [
    (2.80, -0.053), (1.10, -0.025), (1.90, 0.354), (1.88, 0.275), (2.43, 0.268), (3.13, 0.234),
    (2.33, 0.176), (2.25, 0.204), (3.57, 0.179), (3.77, 0.16), (3.77, 0.111), (3.66, 0.057), (3.09, 0.093),
    (2.69, 0.052), (2.15, 0.094), (0.86, 0.05), (0.74, 0.07), (0.67, 0.088), (1.02, 0.085), (1.30, 0.075),
    (1.33, 0.066), (1.42, 0.046), (1.46, 0.09), (1.10, 0.28), (1.20, 0.20), (0.94, 0.26), (0.54, 0.21),
    (0.62, 0.20), (1.25, 0.17), (1.15, 0.12), (0.80, 0.25), (1.55, 0.22), (0.70, 0.30),
]
mini15_c_yellow = [
    (4.55, 0.263), (4.10, 0.288), (3.28, 0.343), (2.80, 0.259), (2.72, 0.384), (2.75, 0.38), (2.54, 0.345),
    (2.40, 0.323), (2.42, 0.32), (2.54, 0.229), (2.31, 0.206), (2.07, 0.33), (1.79, 0.313), (1.82, 0.24),
    (1.84, 0.22), (1.85, 0.18), (1.68, 0.155), (1.77, 0.07), (2.15, 0.065), (1.55, 0.216), (1.50, 0.22),
    (1.36, 0.18), (1.35, 0.19), (1.45, 0.063), (1.04, 0.482), (0.30, 0.455), (0.71, 0.482),
    (0.35, 0.41), (0.45, 0.42), (0.55, 0.40), (0.60, 0.42), (0.75, 0.40), (0.85, 0.41), (0.40, 0.36),
    (0.50, 0.35), (0.62, 0.36), (0.78, 0.37), (0.90, 0.36), (1.00, 0.38), (1.10, 0.33), (0.35, 0.31),
    (0.45, 0.30), (0.55, 0.32), (0.65, 0.29), (0.75, 0.31), (0.88, 0.30), (1.00, 0.29), (1.15, 0.30),
    (1.25, 0.31), (0.32, 0.26), (0.42, 0.25), (0.52, 0.27), (0.62, 0.24), (0.72, 0.25), (0.82, 0.23),
    (0.95, 0.24), (1.05, 0.22), (1.20, 0.24), (1.35, 0.25), (0.35, 0.21), (0.45, 0.22), (0.55, 0.20),
    (0.65, 0.21), (0.75, 0.19), (0.85, 0.20), (1.00, 0.21), (1.15, 0.19), (1.25, 0.20), (0.38, 0.17),
    (0.48, 0.18), (0.58, 0.16), (0.68, 0.17), (0.78, 0.15), (0.88, 0.16), (0.98, 0.14), (1.10, 0.15),
    (1.20, 0.13), (1.35, 0.12), (1.45, 0.11), (0.45, 0.14), (0.55, 0.13), (0.65, 0.12), (0.75, 0.11),
    (0.85, 0.12), (0.95, 0.10), (1.05, 0.11), (1.15, 0.09), (1.25, 0.10), (0.70, 0.08), (0.80, 0.09),
    (0.90, 0.07), (1.30, 0.08), (0.50, 0.10), (0.60, 0.09), (1.38, 0.06), (1.40, 0.09), (0.40, 0.20),
    (0.48, 0.24), (0.58, 0.28), (0.68, 0.33), (1.20, 0.40), (1.30, 0.36), (0.92, 0.44),
    (0.312, 0.236), (0.368, 0.188), (0.426, 0.166), (0.514, 0.152), (0.604, 0.138), (0.692, 0.132),
    (0.766, 0.128), (0.852, 0.102), (0.934, 0.118), (1.026, 0.132), (1.112, 0.118), (1.206, 0.108),
    (1.318, 0.102), (0.538, 0.226), (0.458, 0.258), (0.366, 0.276), (0.404, 0.322), (0.626, 0.312),
    (0.706, 0.276), (0.812, 0.268), (1.082, 0.252), (1.296, 0.216), (1.402, 0.142), (0.988, 0.078),
]
mini15_c_purple = [
    (0.25, 0.625), (0.45, 0.647), (0.87, 0.652), (1.07, 0.619), (0.32, 0.578), (0.32, 0.556), (0.51, 0.58),
    (0.53, 0.575), (0.74, 0.54), (0.81, 0.535), (0.94, 0.566), (1.00, 0.566), (1.04, 0.53), (1.63, 0.52),
    (2.49, 0.535), (2.88, 0.535), (3.00, 0.455), (3.03, 0.46), (3.01, 0.415), (2.30, 0.443), (2.36, 0.43),
    (2.52, 0.425), (2.07, 0.452), (2.00, 0.382), (1.77, 0.425), (1.79, 0.344), (1.49, 0.397), (1.33, 0.41),
    (1.36, 0.40), (1.14, 0.43), (1.24, 0.432), (1.00, 0.455), (0.36, 0.505), (0.51, 0.487), (0.36, 0.452),
    (0.74, 0.18), (0.80, 0.16), (0.85, 0.175), (0.90, 0.15), (0.95, 0.185), (1.00, 0.14), (1.05, 0.17),
    (1.10, 0.155), (1.13, 0.18), (0.88, 0.19), (0.98, 0.165), (1.08, 0.19), (1.30, 0.137), (1.33, 0.13),
    (1.79, 0.216), (1.30, 0.295), (1.45, 0.295), (1.40, 0.30), (1.26, 0.265), (0.42, 0.25), (0.57, 0.255),
    (0.66, 0.34), (0.80, 0.345), (0.63, 0.42), (0.75, 0.415), (0.85, 0.40), (0.55, 0.44), (0.65, 0.46),
    (0.80, 0.48), (0.85, 0.50), (0.90, 0.51), (0.60, 0.37), (0.70, 0.30), (0.72, 0.26), (0.85, 0.28),
    (0.90, 0.32), (1.05, 0.32), (1.10, 0.35), (1.15, 0.27), (1.20, 0.22), (0.60, 0.22), (0.50, 0.30),
    (0.45, 0.38), (0.70, 0.42), (1.20, 0.36), (0.95, 0.25), (0.40, 0.27), (1.25, 0.15),
]

# axis ticks (gridlines at every tick, labels on every other one)
u_ticks = [-0.5, -0.375, -0.25, -0.125, 0, 0.125, 0.25]
u_labels = ['-0.50', '', '-0.25', '', '0', '', '0.25']
hu_ticks = [-0.6, -0.45, -0.3, -0.15, 0, 0.15, 0.3, 0.45, 0.6, 0.75, 0.9]
hu_labels = ['-0.6', '', '-0.3', '', '0', '', '0.3', '', '0.6', '', '0.9']
c_ticks = [0, 0.5, 1, 1.5, 2, 2.5, 3, 3.5, 4, 4.5, 5, 5.5, 6]
c_labels = ['0', '', '1', '', '2', '', '3', '', '4', '', '5', '', '6']
hc_ticks = [-0.2, -0.1, 0, 0.1, 0.2, 0.3, 0.4, 0.5, 0.6, 0.7, 0.8]
hc_labels = ['-0.2', '', '0', '', '0.2', '', '0.4', '', '0.6', '', '0.8']

W, H = 1216, 920
col_px = [(107, 415), (495, 802), (882, 1189)]
row_px = [(61, 397), (507, 845)]

panels = [
    [(crd_u_blue, BLUE), (crd_u_yellow, YELLOW), (crd_u_purple, PURPLE)],
    [(mini13_u_blue, BLUE)],
    [(mini15_u_blue, BLUE)],
    [(crd_c_blue, BLUE), (crd_c_yellow, YELLOW), (crd_c_purple, PURPLE), (crd_c_red, RED), (crd_c_green, GREEN)],
    [(mini13_c_blue, BLUE), (mini13_c_yellow, YELLOW), (mini13_c_purple, PURPLE)],
    [(mini15_c_blue, BLUE), (mini15_c_yellow, YELLOW), (mini15_c_purple, PURPLE)],
]

fig = go.Figure()
tick_font = dict(family='Liberation Sans, Arial, sans-serif', size=18.5, color='#262626')
serif = 'Liberation Serif, Times New Roman, serif'
layout = {}
shapes = []

for i, series in enumerate(panels):
    r, c = divmod(i, 3)
    sfx = '' if i == 0 else str(i + 1)
    for pts, col in series:
        fig.add_trace(go.Scatter(
            x=[p[0] for p in pts], y=[p[1] for p in pts], mode='markers',
            marker=dict(color=col, size=8, line=dict(width=0)),
            xaxis='x' + sfx, yaxis='y' + sfx, showlegend=False, hoverinfo='skip'))

    x0, x1 = col_px[c]
    y0, y1 = row_px[r]
    common = dict(showgrid=True, gridcolor='#dcdcdc', gridwidth=1,
                  showline=True, linecolor='#262626', linewidth=1, mirror='ticks',
                  ticks='inside', ticklen=4, tickcolor='#262626', tickwidth=1,
                  zeroline=False, tickfont=tick_font, fixedrange=True,
                  automargin=False, ticklabelstandoff=5)
    if r == 0:
        xr, xt, xl = [-0.5, 0.25], u_ticks, u_labels
        yr, yt, yl = [-0.6, 0.9], hu_ticks, hu_labels
    else:
        xr, xt, xl = [0, 6], c_ticks, c_labels
        yr, yt, yl = [-0.2, 0.8], hc_ticks, hc_labels
    if c != 0:
        yl = [''] * len(yt)
    layout['xaxis' + sfx] = dict(common, domain=[x0 / W, x1 / W], range=xr, tickvals=xt, ticktext=xl,
                                 anchor='y' + sfx)
    layout['yaxis' + sfx] = dict(common, domain=[1 - y1 / H, 1 - y0 / H], range=yr, tickvals=yt, ticktext=yl,
                                 anchor='x' + sfx)

    # reference lines through the origin
    shapes.append(dict(type='line', xref='x' + sfx + ' domain', yref='y' + sfx, x0=0, x1=1, y0=0, y1=0,
                       line=dict(color='#4a4a4a', width=1.8), layer='above'))
    if r == 0:
        shapes.append(dict(type='line', xref='x' + sfx, yref='y' + sfx + ' domain', x0=0, x1=0, y0=0, y1=1,
                           line=dict(color='#4a4a4a', width=1.8), layer='above'))

annotations = []


def label(text, x, y, size, color, angle=0):
    return dict(text=text, x=x, y=y, xref='paper', yref='paper', xanchor='center', yanchor='middle',
                showarrow=False, textangle=angle, font=dict(family=serif, size=size, color=color))


for c, t in enumerate(titles):
    xc = (col_px[c][0] + col_px[c][1]) / 2 / W
    annotations.append(label(t, xc, 1 - 33 / H, 30, '#000000'))
    annotations.append(label('&lt;&#8202;u&#8202;&gt;&#8194;(m/s)', xc, 1 - 452 / H, 30, '#262626'))
    annotations.append(label('&lt;&#8202;c&#8202;&gt;&#8194;(kg/m<sup>3</sup>)', xc, 1 - 898 / H, 30, '#262626'))
for r in range(2):
    yc = 1 - (row_px[r][0] + row_px[r][1]) / 2 / H
    annotations.append(label('Relative instrument heights', 35 / W, yc, 32, '#262626', angle=-90))

fig.update_layout(width=W, height=H, margin=dict(l=0, r=0, t=0, b=0, autoexpand=False),
                  paper_bgcolor='#f0f0f0', plot_bgcolor='#ffffff',
                  shapes=shapes, annotations=annotations, **layout)

fig.write_html('out.html')
